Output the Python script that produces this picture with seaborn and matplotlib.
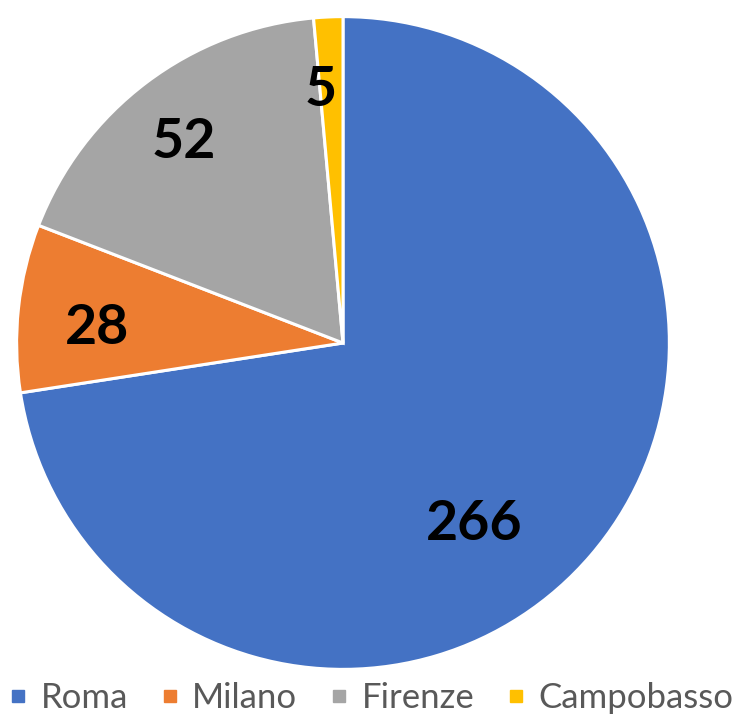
import numpy as np
import matplotlib
matplotlib.use("Agg")
import matplotlib.pyplot as plt
from matplotlib.lines import Line2D
import seaborn as sns

# dati
citta = ["Roma", "Milano", "Firenze", "Campobasso"]
valori = [266, 28, 52, 5]
# ampiezza delle fette (%)
quote = [72.56, 8.31, 17.69, 1.44]
colori = ["#4472C4", "#ED7D31", "#A5A5A5", "#FFC000"]
# posizione delle etichette: distanza (frazione del raggio) e scarto angolare (gradi)
dist_etichette = [0.686, 0.756, 0.786, 0.777]
scarto_angolo = [-13.4, 2.6, 1.4, 2.4]

sns.set_theme(style="white")
plt.rcParams['font.family'] = ['Lato', 'DejaVu Sans']

fig = plt.figure(figsize=(7.4, 7.15), dpi=100)
ax = fig.add_axes([15 / 740, 44 / 715, 656 / 740, 656 / 715])

wedges, _ = ax.pie(quote, colors=colori, startangle=90, counterclock=False,
                   wedgeprops=dict(edgecolor="white", linewidth=2.2))

# etichette dei valori
for w, v, d, s in zip(wedges, valori, dist_etichette, scarto_angolo):
    ang = np.deg2rad((w.theta1 + w.theta2) / 2 + s)
    ax.text(d * np.cos(ang), d * np.sin(ang), str(v), ha="center", va="center",
            fontsize=40, fontweight="bold", color="black")

ax.set_aspect("equal")
ax.set_xlim(-1.005, 1.005)
ax.set_ylim(-1.005, 1.005)
ax.axis("off")

# legenda in basso
handles = [Line2D([0], [0], marker="s", linestyle="", markersize=9,
                  markerfacecolor=c, markeredgecolor=c) for c in colori]
fig.legend(handles, citta, loc="center", bbox_to_anchor=(0.503, 0.024),
           ncol=4, frameon=False, fontsize=25, handlelength=0.4,
           handletextpad=0.45, columnspacing=1.0, labelcolor="#595959")

fig.savefig("out.png", dpi=100)
